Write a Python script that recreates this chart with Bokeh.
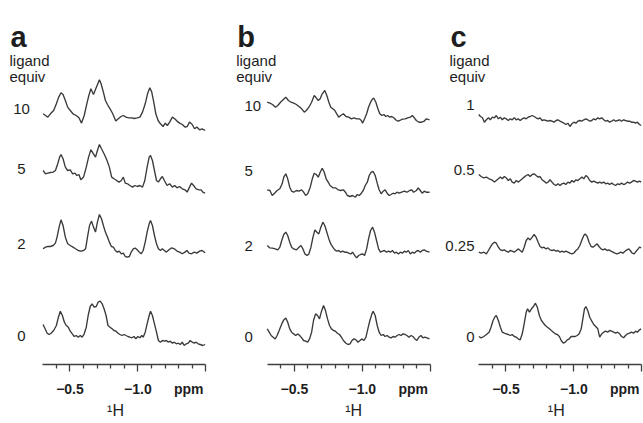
from bokeh.plotting import figure
from bokeh.models import Range1d, FixedTicker, LinearAxis
from bokeh.core.properties import value
from bokeh.layouts import row
from bokeh.embed import file_html
from bokeh.resources import INLINE

# ---------------- data (chemical shift in ppm, intensity in a.u.) ----------------
# panel a
a10_ppm = [-0.302,-0.320,-0.337,-0.356,-0.380,-0.400,-0.417,-0.434,-0.449,-0.466,-0.483,-0.502,-0.522,-0.546,-0.566,-0.585,-0.605,-0.624,-0.639,-0.654,-0.673,-0.690,-0.705,-0.717,-0.729,-0.746,-0.761,-0.776,-0.795,-0.815,-0.837,-0.856,-0.876,-0.893,-0.912,-0.932,-0.954,-0.973,-0.995,-1.015,-1.034,-1.054,-1.071,-1.088,-1.102,-1.117,-1.132,-1.149,-1.166,-1.185,-1.202,-1.217,-1.234,-1.254,-1.271,-1.288,-1.307,-1.327,-1.346,-1.363,-1.380,-1.400,-1.417,-1.434,-1.454,-1.473,-1.495]
a10_int = [-5.0,-6.7,-8.3,-5.0,-1.7,5.0,11.7,16.0,14.3,8.3,1.7,-1.7,-5.0,-6.7,-9.0,-14.3,-6.7,5.0,13.3,20.0,14.3,20.0,25.0,29.0,25.0,16.7,8.3,4.3,0.0,-5.0,-12.3,-10.0,-7.7,-6.7,-8.3,-9.0,-9.0,-9.7,-9.0,-8.3,-3.3,5.0,15.0,21.0,16.7,6.7,-5.0,-11.7,-15.0,-17.7,-14.3,-16.7,-13.3,-8.3,-10.0,-12.3,-14.3,-15.7,-18.3,-17.7,-13.3,-15.7,-20.0,-18.3,-21.0,-20.0,-21.7]

a5_ppm = [-0.302,-0.320,-0.337,-0.356,-0.376,-0.393,-0.410,-0.424,-0.434,-0.449,-0.466,-0.483,-0.502,-0.520,-0.537,-0.551,-0.566,-0.580,-0.600,-0.620,-0.637,-0.654,-0.673,-0.688,-0.702,-0.717,-0.732,-0.751,-0.771,-0.790,-0.807,-0.824,-0.844,-0.861,-0.878,-0.893,-0.907,-0.924,-0.941,-0.961,-0.978,-0.995,-1.015,-1.034,-1.051,-1.068,-1.083,-1.093,-1.107,-1.122,-1.137,-1.151,-1.166,-1.180,-1.195,-1.215,-1.234,-1.254,-1.271,-1.288,-1.307,-1.327,-1.346,-1.363,-1.380,-1.395,-1.410,-1.429,-1.449,-1.466,-1.478,-1.495]
a5_int = [-1.7,-5.0,-4.3,-3.7,-3.3,-1.7,5.0,11.7,14.3,10.0,1.7,-1.7,-1.0,-5.0,-4.3,-6.7,-5.7,-11.0,-8.3,1.7,11.7,19.0,15.0,11.7,18.3,24.3,20.0,15.0,9.0,1.7,-8.3,-10.0,-11.7,-13.3,-11.7,-8.3,-14.3,-15.0,-16.7,-18.3,-16.7,-17.7,-16.7,-18.3,-11.7,1.7,11.7,13.3,8.3,-1.7,-11.7,-13.3,-10.0,-7.7,-11.7,-16.7,-15.0,-18.3,-16.7,-19.0,-17.7,-20.0,-21.0,-23.3,-18.3,-14.3,-16.7,-20.0,-21.0,-21.0,-23.3,-24.3]

a2_ppm = [-0.302,-0.320,-0.337,-0.356,-0.376,-0.393,-0.405,-0.420,-0.434,-0.449,-0.466,-0.483,-0.502,-0.522,-0.541,-0.561,-0.580,-0.600,-0.615,-0.629,-0.644,-0.659,-0.673,-0.688,-0.702,-0.717,-0.732,-0.746,-0.761,-0.776,-0.790,-0.805,-0.820,-0.834,-0.849,-0.863,-0.878,-0.893,-0.907,-0.922,-0.937,-0.951,-0.966,-0.980,-0.995,-1.010,-1.024,-1.039,-1.054,-1.068,-1.083,-1.093,-1.107,-1.122,-1.137,-1.151,-1.166,-1.180,-1.195,-1.210,-1.229,-1.249,-1.268,-1.288,-1.307,-1.327,-1.346,-1.361,-1.376,-1.395,-1.415,-1.434,-1.454,-1.473,-1.495]
a2_int = [-5.0,-3.3,-2.7,-2.7,-1.7,0.7,6.7,16.7,24.0,18.3,6.7,0.0,-1.7,-3.3,-5.0,-6.7,-7.3,-6.7,-5.0,6.7,18.3,22.7,16.7,11.7,21.7,29.3,25.0,18.3,11.7,6.7,1.7,-2.7,-3.3,-6.7,-8.3,-7.3,-10.0,-9.3,-12.7,-13.3,-12.7,-8.3,-5.0,-4.3,-6.0,-8.3,-10.0,-6.7,1.7,11.7,20.0,23.3,18.3,8.3,0.0,-5.0,-6.7,-5.0,-6.7,-8.3,-6.0,-4.0,-5.0,-7.3,-8.3,-10.0,-8.3,-6.7,-9.3,-10.0,-8.3,-9.3,-7.3,-6.7,-9.0]

a0_ppm = [-0.302,-0.317,-0.332,-0.346,-0.361,-0.380,-0.400,-0.415,-0.429,-0.444,-0.459,-0.473,-0.488,-0.502,-0.517,-0.532,-0.546,-0.561,-0.576,-0.590,-0.605,-0.620,-0.634,-0.649,-0.663,-0.678,-0.693,-0.707,-0.722,-0.737,-0.751,-0.766,-0.780,-0.795,-0.810,-0.824,-0.839,-0.854,-0.868,-0.883,-0.898,-0.912,-0.927,-0.941,-0.956,-0.971,-0.985,-1.000,-1.015,-1.029,-1.039,-1.054,-1.068,-1.083,-1.093,-1.107,-1.122,-1.137,-1.151,-1.166,-1.180,-1.195,-1.210,-1.224,-1.239,-1.254,-1.268,-1.283,-1.298,-1.312,-1.327,-1.341,-1.356,-1.371,-1.385,-1.400,-1.415,-1.429,-1.444,-1.459,-1.478,-1.495]
a0_int = [11.0,6.7,2.3,1.0,2.3,5.0,10.0,18.3,24.3,20.0,13.3,10.0,8.3,4.3,1.7,-1.0,0.0,-1.7,0.0,-1.7,1.7,8.3,20.0,29.0,31.7,28.3,29.0,33.3,34.3,31.7,26.7,20.0,10.0,8.3,6.7,5.0,4.3,2.3,1.0,0.0,1.0,0.0,-1.0,-1.7,-2.3,-1.0,-3.3,-1.0,-2.3,0.0,-1.7,3.3,11.7,20.0,24.3,20.0,11.7,3.3,-5.0,-6.7,-5.0,-5.7,-5.0,-6.7,-5.7,-7.7,-6.7,-8.3,-7.7,-9.0,-6.7,-10.0,-8.3,-7.7,-5.0,-6.7,-7.7,-6.7,-8.3,-9.0,-10.0,-9.0]

# panel b
b10_ppm = [-0.300,-0.320,-0.339,-0.361,-0.378,-0.398,-0.417,-0.437,-0.456,-0.476,-0.495,-0.515,-0.534,-0.554,-0.573,-0.588,-0.607,-0.627,-0.646,-0.661,-0.676,-0.690,-0.705,-0.724,-0.739,-0.754,-0.768,-0.783,-0.798,-0.812,-0.827,-0.841,-0.861,-0.880,-0.900,-0.920,-0.939,-0.959,-0.978,-0.993,-1.002,-1.017,-1.032,-1.046,-1.061,-1.076,-1.085,-1.100,-1.115,-1.129,-1.144,-1.159,-1.173,-1.188,-1.202,-1.217,-1.232,-1.246,-1.261,-1.276,-1.295,-1.315,-1.334,-1.354,-1.368,-1.383,-1.398,-1.417,-1.437,-1.456,-1.471,-1.495]
b10_int = [3.3,2.3,1.0,-1.7,0.0,3.3,5.7,8.3,5.0,3.3,2.3,1.0,-1.0,-3.3,-6.7,-5.0,-1.7,3.3,10.0,7.7,5.0,6.7,11.7,15.0,10.0,3.3,-1.7,-3.3,-5.0,-8.3,-11.7,-10.0,-8.3,-11.0,-11.7,-13.3,-12.3,-13.3,-13.3,-15.0,-17.7,-13.3,-8.3,-1.7,3.3,6.7,7.3,3.3,-3.3,-8.3,-10.0,-9.0,-11.0,-10.0,-11.7,-11.0,-12.3,-14.3,-15.7,-15.0,-13.7,-13.3,-12.3,-11.7,-10.0,-12.3,-15.0,-16.7,-16.7,-15.7,-13.3,-14.3]

b5_ppm = [-0.300,-0.320,-0.337,-0.354,-0.373,-0.393,-0.410,-0.422,-0.437,-0.451,-0.466,-0.480,-0.495,-0.515,-0.534,-0.554,-0.568,-0.583,-0.598,-0.617,-0.632,-0.646,-0.661,-0.676,-0.690,-0.705,-0.720,-0.734,-0.749,-0.763,-0.783,-0.802,-0.822,-0.841,-0.861,-0.876,-0.890,-0.910,-0.929,-0.949,-0.963,-0.978,-0.993,-1.007,-1.022,-1.037,-1.051,-1.066,-1.080,-1.095,-1.110,-1.124,-1.139,-1.154,-1.168,-1.183,-1.198,-1.212,-1.227,-1.241,-1.256,-1.271,-1.290,-1.310,-1.329,-1.349,-1.363,-1.378,-1.398,-1.412,-1.427,-1.441,-1.456,-1.471,-1.495]
b5_int = [-19.3,-20.0,-25.0,-22.7,-20.0,-18.3,-13.3,-6.7,-3.3,-8.3,-16.7,-20.7,-21.7,-20.0,-20.7,-19.3,-21.7,-25.0,-23.3,-16.7,-8.3,-2.7,-4.0,-6.7,-1.7,2.3,-1.7,-8.3,-11.7,-15.0,-17.3,-17.3,-19.3,-20.0,-19.3,-21.7,-25.0,-26.0,-25.0,-26.7,-24.0,-25.0,-22.7,-20.0,-15.0,-11.7,-5.0,-1.7,-1.0,-5.0,-12.7,-19.3,-23.3,-20.7,-19.3,-22.7,-25.0,-24.0,-22.7,-23.3,-21.7,-22.7,-21.7,-20.7,-21.7,-20.0,-19.3,-21.7,-20.0,-17.3,-20.0,-22.7,-20.7,-21.7,-21.7]

b2_ppm = [-0.300,-0.320,-0.339,-0.359,-0.378,-0.393,-0.407,-0.422,-0.437,-0.451,-0.466,-0.480,-0.495,-0.515,-0.534,-0.549,-0.563,-0.578,-0.593,-0.607,-0.622,-0.637,-0.651,-0.666,-0.680,-0.695,-0.710,-0.724,-0.739,-0.754,-0.768,-0.783,-0.798,-0.812,-0.827,-0.841,-0.856,-0.871,-0.885,-0.900,-0.915,-0.929,-0.944,-0.959,-0.973,-0.988,-1.002,-1.017,-1.032,-1.046,-1.061,-1.076,-1.090,-1.105,-1.120,-1.134,-1.149,-1.163,-1.178,-1.193,-1.207,-1.222,-1.237,-1.251,-1.266,-1.280,-1.295,-1.310,-1.324,-1.339,-1.354,-1.368,-1.383,-1.398,-1.412,-1.427,-1.441,-1.456,-1.471,-1.495]
b2_int = [0.7,-1.7,-2.0,-2.7,-3.7,-1.0,5.7,11.7,14.0,10.7,4.0,-1.0,-2.7,-3.7,-1.0,0.7,-2.7,-7.7,-9.3,-7.7,-1.0,9.0,16.3,14.0,12.3,19.0,24.0,20.7,14.0,7.3,2.3,-1.0,-3.7,-5.0,-4.3,-6.0,-5.0,-6.0,-6.0,-7.0,-7.7,-6.0,-9.3,-11.7,-9.3,-8.3,-7.7,-9.3,-2.7,7.3,15.7,19.0,14.0,5.7,-2.7,-6.0,-5.0,-4.3,-6.0,-5.0,-6.0,-4.3,-7.0,-6.0,-7.7,-6.0,-7.0,-5.0,-6.0,-4.3,-7.7,-6.0,-7.0,-5.0,-4.3,-6.0,-4.3,-3.7,-5.0,-6.0]

b0_ppm = [-0.300,-0.315,-0.329,-0.344,-0.359,-0.373,-0.388,-0.407,-0.422,-0.437,-0.451,-0.466,-0.480,-0.495,-0.510,-0.524,-0.539,-0.554,-0.568,-0.583,-0.598,-0.612,-0.627,-0.641,-0.656,-0.671,-0.685,-0.700,-0.715,-0.729,-0.744,-0.759,-0.773,-0.788,-0.802,-0.817,-0.832,-0.846,-0.861,-0.880,-0.895,-0.910,-0.924,-0.939,-0.954,-0.968,-0.983,-0.998,-1.012,-1.027,-1.041,-1.056,-1.071,-1.080,-1.095,-1.110,-1.124,-1.139,-1.154,-1.168,-1.183,-1.198,-1.212,-1.227,-1.241,-1.256,-1.271,-1.285,-1.300,-1.315,-1.329,-1.344,-1.359,-1.373,-1.388,-1.402,-1.417,-1.432,-1.446,-1.461,-1.476,-1.495]
b0_int = [8.3,5.0,1.7,0.0,-1.7,1.7,6.7,13.3,17.3,19.3,15.0,8.3,5.0,3.3,1.7,3.3,1.7,-0.7,-3.3,-4.0,-5.0,-1.7,5.0,16.7,23.3,21.7,18.3,26.0,31.7,26.7,18.3,11.7,8.3,6.7,6.0,4.0,2.7,0.0,-3.3,-6.0,-7.3,-6.7,-3.3,-1.7,-2.7,-5.0,-3.3,-1.7,-3.3,0.0,8.3,16.7,23.3,26.0,21.7,11.7,5.0,1.7,2.7,0.7,1.7,0.0,-0.7,0.7,0.0,1.7,2.7,1.7,3.3,2.7,1.7,0.0,1.7,0.7,-1.7,-3.3,0.0,1.7,-0.7,0.0,-0.7,-1.7]

# panel c
c1_ppm = [-0.300,-0.312,-0.327,-0.341,-0.356,-0.371,-0.385,-0.400,-0.415,-0.429,-0.444,-0.459,-0.473,-0.488,-0.502,-0.517,-0.532,-0.546,-0.561,-0.576,-0.590,-0.605,-0.620,-0.634,-0.649,-0.663,-0.678,-0.693,-0.707,-0.722,-0.737,-0.751,-0.766,-0.780,-0.795,-0.810,-0.824,-0.839,-0.854,-0.868,-0.883,-0.898,-0.912,-0.927,-0.941,-0.956,-0.971,-0.985,-1.000,-1.015,-1.029,-1.044,-1.059,-1.073,-1.088,-1.102,-1.117,-1.132,-1.146,-1.161,-1.176,-1.190,-1.205,-1.220,-1.234,-1.249,-1.263,-1.278,-1.293,-1.307,-1.322,-1.337,-1.351,-1.366,-1.380,-1.395,-1.410,-1.424,-1.439,-1.454,-1.468,-1.483,-1.495]
c1_int = [-10.0,-12.0,-13.3,-17.7,-15.3,-13.3,-15.3,-12.7,-13.3,-11.0,-14.3,-12.7,-15.3,-13.3,-14.3,-16.0,-14.3,-15.3,-13.3,-15.3,-14.3,-16.0,-14.3,-13.3,-14.3,-12.7,-12.0,-11.0,-12.0,-13.3,-14.3,-13.3,-16.0,-15.3,-16.0,-16.7,-16.0,-16.7,-17.7,-16.0,-15.3,-16.7,-17.7,-18.7,-20.0,-18.7,-22.0,-19.3,-17.7,-18.7,-16.7,-16.0,-16.7,-15.3,-14.3,-15.3,-16.7,-16.0,-14.3,-15.3,-13.3,-14.3,-13.3,-15.3,-16.7,-16.0,-17.7,-16.7,-15.3,-16.7,-16.0,-15.3,-16.7,-15.3,-16.0,-16.7,-16.7,-17.7,-17.7,-18.7,-17.7,-20.0,-21.0]

c05_ppm = [-0.300,-0.317,-0.337,-0.356,-0.376,-0.395,-0.415,-0.429,-0.444,-0.459,-0.473,-0.488,-0.502,-0.517,-0.532,-0.546,-0.561,-0.576,-0.590,-0.605,-0.620,-0.634,-0.649,-0.663,-0.678,-0.693,-0.707,-0.722,-0.737,-0.751,-0.766,-0.780,-0.795,-0.810,-0.824,-0.839,-0.854,-0.868,-0.883,-0.898,-0.912,-0.927,-0.941,-0.956,-0.971,-0.985,-1.000,-1.015,-1.029,-1.044,-1.059,-1.073,-1.088,-1.102,-1.117,-1.132,-1.146,-1.161,-1.176,-1.190,-1.205,-1.220,-1.234,-1.249,-1.263,-1.278,-1.293,-1.307,-1.322,-1.337,-1.351,-1.366,-1.380,-1.395,-1.410,-1.424,-1.439,-1.454,-1.468,-1.483,-1.495]
c05_int = [-4.7,-6.7,-8.0,-7.3,-9.0,-10.0,-12.3,-10.7,-9.0,-7.3,-9.0,-6.7,-8.0,-10.7,-9.0,-12.3,-13.3,-10.7,-12.3,-10.7,-9.0,-7.3,-5.7,-4.7,-6.7,-4.7,-4.0,-5.7,-7.3,-6.7,-10.0,-11.3,-13.3,-12.3,-10.0,-12.3,-14.7,-15.7,-14.0,-15.7,-14.0,-13.3,-14.7,-12.3,-13.3,-10.7,-12.3,-10.0,-10.7,-9.0,-7.3,-9.0,-5.7,-7.3,-10.7,-12.3,-11.3,-12.3,-13.3,-12.3,-13.3,-12.3,-14.0,-13.3,-14.7,-13.3,-14.7,-15.7,-14.0,-14.7,-13.3,-14.7,-14.0,-12.3,-13.3,-12.3,-10.7,-11.3,-12.3,-11.3,-12.3]

c025_ppm = [-0.300,-0.317,-0.337,-0.356,-0.371,-0.385,-0.400,-0.415,-0.429,-0.444,-0.459,-0.473,-0.488,-0.502,-0.517,-0.532,-0.546,-0.561,-0.576,-0.590,-0.605,-0.620,-0.634,-0.649,-0.663,-0.678,-0.693,-0.707,-0.722,-0.737,-0.751,-0.766,-0.780,-0.795,-0.810,-0.824,-0.839,-0.854,-0.868,-0.883,-0.898,-0.912,-0.927,-0.941,-0.956,-0.971,-0.985,-1.000,-1.015,-1.029,-1.044,-1.059,-1.073,-1.083,-1.098,-1.112,-1.127,-1.141,-1.156,-1.171,-1.185,-1.200,-1.215,-1.229,-1.244,-1.259,-1.273,-1.288,-1.302,-1.317,-1.332,-1.346,-1.361,-1.376,-1.390,-1.405,-1.415,-1.429,-1.444,-1.459,-1.473,-1.483,-1.495]
c025_int = [-6.0,-7.0,-6.0,-7.7,-4.3,-1.0,2.3,4.0,3.0,-1.0,-3.7,-4.3,-3.7,-5.0,-6.0,-4.3,-5.0,-6.0,-4.3,-2.7,-4.3,-6.0,-1.0,5.7,8.3,6.3,9.0,11.7,9.0,4.0,-0.3,-1.7,-1.0,-2.7,-1.7,-3.7,-4.3,-3.7,-5.0,-4.3,-6.0,-5.0,-6.0,-5.0,-6.0,-7.0,-7.7,-7.0,-4.3,-2.7,0.7,6.3,10.7,12.3,9.7,4.0,-0.3,-1.0,0.7,2.3,-0.3,-2.7,-3.7,-2.7,-4.3,-3.7,-5.0,-6.0,-7.0,-7.7,-7.0,-6.0,-7.0,-5.0,-3.7,-2.7,-4.3,-7.0,-7.7,-5.0,-2.7,-1.0,-1.7]

c0_ppm = [-0.300,-0.317,-0.337,-0.356,-0.376,-0.390,-0.405,-0.420,-0.429,-0.444,-0.459,-0.473,-0.488,-0.502,-0.517,-0.532,-0.546,-0.561,-0.576,-0.590,-0.605,-0.620,-0.634,-0.649,-0.659,-0.673,-0.688,-0.702,-0.717,-0.732,-0.746,-0.761,-0.776,-0.790,-0.805,-0.820,-0.834,-0.849,-0.863,-0.878,-0.893,-0.907,-0.922,-0.937,-0.951,-0.966,-0.980,-0.995,-1.010,-1.024,-1.039,-1.054,-1.068,-1.078,-1.088,-1.102,-1.117,-1.132,-1.146,-1.161,-1.176,-1.190,-1.205,-1.220,-1.234,-1.249,-1.263,-1.278,-1.293,-1.307,-1.322,-1.337,-1.351,-1.366,-1.380,-1.395,-1.410,-1.424,-1.439,-1.454,-1.468,-1.483,-1.495]
c0_int = [0.0,-1.3,0.0,2.0,4.3,9.3,16.0,20.0,21.0,16.0,9.3,4.3,3.3,2.7,2.0,1.0,2.0,0.0,-0.7,-2.3,-3.3,2.7,12.7,24.3,27.7,24.3,27.7,30.0,33.3,28.7,21.0,16.0,13.3,11.0,9.3,7.7,6.0,4.3,2.7,2.0,0.0,-4.0,-6.7,-5.7,-3.3,-2.3,0.0,0.0,0.0,1.0,2.7,7.7,19.3,27.7,30.0,26.0,19.3,15.3,12.0,10.0,7.7,-0.7,2.7,4.3,5.3,4.3,6.0,5.3,4.3,3.3,4.3,2.7,0.0,-1.3,1.0,2.7,3.3,4.3,3.3,5.3,4.3,6.7,7.7]

panel_letters = ["a", "b", "c"]
equiv_labels = [["10", "5", "2", "0"], ["10", "5", "2", "0"], ["1", "0.5", "0.25", "0"]]
series = [
    [(a10_ppm, a10_int), (a5_ppm, a5_int), (a2_ppm, a2_int), (a0_ppm, a0_int)],
    [(b10_ppm, b10_int), (b5_ppm, b5_int), (b2_ppm, b2_int), (b0_ppm, b0_int)],
    [(c1_ppm, c1_int), (c05_ppm, c05_int), (c025_ppm, c025_int), (c0_ppm, c0_int)],
]
ppm_min, ppm_max = -1.5, -0.3
major_ticks = [-0.5, -1.0, -1.5]
minor_ticks = [-0.4, -0.6, -0.7, -0.8, -0.9, -1.1, -1.2, -1.3, -1.4]
tick_text = {-0.5: "\u22120.5", -1.0: "\u22121.0"}
unit_text = "ppm"
nucleus_text = "\u00b9H"

# ---------------- layout / style ----------------
FONT = "Liberation Sans"
TXT = "#1e1e1e"
LINE = "#3a3a3a"
FIG_H = 423
BOTTOM = 59
FRAME_H = FIG_H - BOTTOM
widths = [232, 208, 203]
left_pad = [42.3, 34.7, 38.3]           # px from figure edge to start of spectrum
PXPP = 163.0 / (ppm_max - ppm_min)      # px per ppm
offsets = [[255.7, 195.7, 120.7, 29.0], [259.0, 194.0, 118.3, 27.3], [260.0, 194.7, 118.3, 28.0]]
lab_dx = [-21.3, -22.7, -4.3]           # px from spectrum start
lab_align = ["center", "left", "right"]
head_dx = [-32.3, -30.0, -28.3]
unit_dx = 146.0                         # centre of "ppm", px from spectrum start
nuc_dx = [72.7, 86.5, 77.5]             # centre of "1H", px from spectrum start


def px2ppm(dx):
    return ppm_max - dx / PXPP


def label_axis(ticks, overrides, size, style, standoff):
    a = LinearAxis(ticker=FixedTicker(ticks=ticks, minor_ticks=[]))
    a.major_label_overrides = overrides
    a.axis_line_color = None
    a.major_tick_line_color = None
    a.minor_tick_line_color = None
    a.major_tick_in = 0
    a.major_tick_out = 0
    a.minor_tick_in = 0
    a.minor_tick_out = 0
    a.major_label_standoff = standoff
    a.major_label_text_font = FONT
    a.major_label_text_font_style = style
    a.major_label_text_font_size = size
    a.major_label_text_color = TXT
    return a


figs = []
for i in range(3):
    x0 = ppm_max + left_pad[i] / PXPP
    x1 = x0 - widths[i] / PXPP
    p = figure(width=widths[i], height=FIG_H, output_backend="svg", toolbar_location=None,
               title=None, x_axis_type=None, y_axis_type=None,
               x_range=Range1d(x0, x1), y_range=Range1d(0, FRAME_H),
               min_border_left=0, min_border_right=0, min_border_top=0,
               min_border_bottom=BOTTOM)
    p.outline_line_color = None
    p.background_fill_color = "white"
    p.border_fill_color = "white"

    # tick marks
    ax = LinearAxis(ticker=FixedTicker(ticks=major_ticks, minor_ticks=minor_ticks),
                    bounds=(ppm_min, ppm_max))
    ax.major_label_overrides = {t: "" for t in major_ticks}
    ax.major_label_text_font_size = "0px"
    ax.major_label_standoff = 0
    ax.axis_line_color = "#404040"
    ax.axis_line_width = 1.3
    ax.major_tick_line_color = "#404040"
    ax.minor_tick_line_color = "#404040"
    ax.major_tick_line_width = 1.3
    ax.minor_tick_line_width = 1.3
    ax.major_tick_in = 0
    ax.major_tick_out = 7
    ax.minor_tick_in = 0
    ax.minor_tick_out = 4
    p.add_layout(ax, "below")

    # tick labels + unit
    unit_at = px2ppm(unit_dx)
    lab = dict(tick_text)
    lab[unit_at] = unit_text
    p.add_layout(label_axis([-0.5, -1.0, unit_at], lab, "14px", "bold", 9), "below")

    # nucleus label
    nuc_at = px2ppm(nuc_dx[i])
    p.add_layout(label_axis([nuc_at], {nuc_at: nucleus_text}, "16px", "normal", 2), "below")

    for k, (xs, ys) in enumerate(series[i]):
        off = offsets[i][k]
        p.line(xs, [v + off for v in ys], line_color=LINE, line_width=1.35)

    p.text(x=[px2ppm(lab_dx[i])] * 4, y=offsets[i], text=equiv_labels[i],
           text_align=lab_align[i], text_baseline="middle", text_font=value(FONT),
           text_font_size=value("15px"), text_color=TXT)
    p.text(x=[px2ppm(head_dx[i])], y=[327.3], text=[panel_letters[i]],
           text_align="left", text_baseline="alphabetic", text_font=value(FONT),
           text_font_style="bold", text_font_size=value("29px"), text_color=TXT)
    p.text(x=[px2ppm(head_dx[i] - 1)] * 2, y=[304.0, 288.0], text=["ligand", "equiv"],
           text_align="left", text_baseline="alphabetic", text_font=value(FONT),
           text_font_size=value("15px"), text_color=TXT)
    figs.append(p)

layout = row(*figs)
open("out.html", "w").write(file_html(layout, INLINE))
